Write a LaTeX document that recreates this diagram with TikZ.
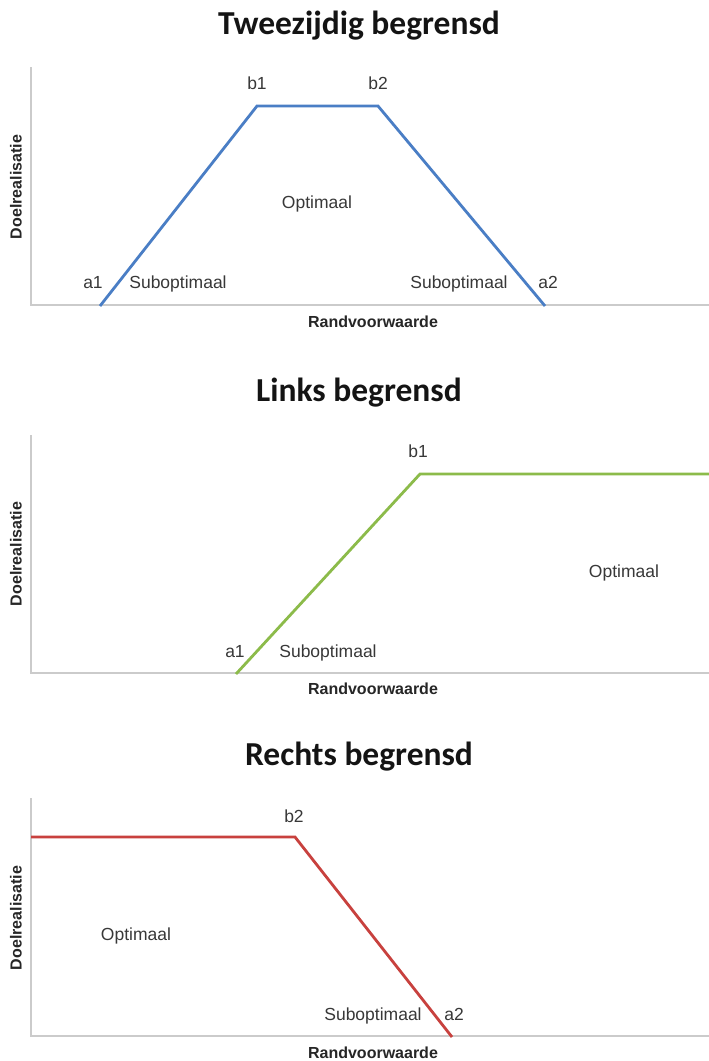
\documentclass[tikz,border=0pt]{standalone}
\usepackage{fontspec}
\setmainfont{Liberation Sans}
\newfontfamily\titlefont{Carlito}
\definecolor{lineblue}{HTML}{4A7EC5}
\definecolor{linegreen}{HTML}{8CBB4A}
\definecolor{linered}{HTML}{C8413E}
\definecolor{axisgray}{HTML}{CBCBCB}
\definecolor{labelgray}{HTML}{383838}
\definecolor{axisname}{HTML}{262626}
\definecolor{titleblack}{HTML}{141414}
\begin{document}
\begin{tikzpicture}[x=1pt, y=-1pt,
  charttitle/.style={font=\titlefont\bfseries\fontsize{33.5}{38}\selectfont,
    text=titleblack, anchor=base, inner sep=0pt},
  axistext/.style={font=\bfseries\fontsize{16}{18}\selectfont,
    text=axisname, inner sep=0pt},
  xname/.style={axistext, anchor=base},
  yname/.style={axistext, rotate=90, anchor=center},
  pointlabel/.style={font=\fontsize{17.5}{20}\selectfont,
    text=labelgray, anchor=base, inner sep=0pt},
  axisline/.style={draw=axisgray, line width=1.6pt},
  curve/.style={line width=2.8pt, line join=miter}]

\useasboundingbox[fill=white] (0,0) rectangle (709,1061);

% ---------- Tweezijdig begrensd ----------
\node[charttitle] (title1) at (359,34) {Tweezijdig begrensd};
\coordinate (top1) at (31,67);
\coordinate (orig1) at (31,305);
\coordinate (end1) at (709,305);
\draw[axisline] (top1) -- (orig1) -- (end1);
\coordinate (A1a) at (100,306);
\coordinate (B1a) at (257,106);
\coordinate (B2a) at (378,106);
\coordinate (A2a) at (545,306);
\draw[curve, draw=lineblue] (A1a) -- (B1a) -- (B2a) -- (A2a);
\node[pointlabel] (lb1a) at (257,89) {b1};
\node[pointlabel] (lb2a) at (378,89) {b2};
\node[pointlabel] (la1a) at (93,288) {a1};
\node[pointlabel] (lsubLa) at (178,288) {Suboptimaal};
\node[pointlabel] (lopta) at (317,208) {Optimaal};
\node[pointlabel] (lsubRa) at (459,288) {Suboptimaal};
\node[pointlabel] (la2a) at (548,288) {a2};
\node[xname] (xn1) at (373,327) {Randvoorwaarde};
\node[yname] (yn1) at (16,187) {Doelrealisatie};

% ---------- Links begrensd ----------
\node[charttitle] (title2) at (359,401) {Links begrensd};
\coordinate (top2) at (31,435);
\coordinate (orig2) at (31,673);
\coordinate (end2) at (709,673);
\draw[axisline] (top2) -- (orig2) -- (end2);
\coordinate (A1b) at (236,674);
\coordinate (B1b) at (420,474);
\coordinate (Rb) at (709,474);
\draw[curve, draw=linegreen] (A1b) -- (B1b) -- (Rb);
\node[pointlabel] (lb1b) at (418,457) {b1};
\node[pointlabel] (la1b) at (235,657) {a1};
\node[pointlabel] (lsubb) at (328,657) {Suboptimaal};
\node[pointlabel] (loptb) at (624,577) {Optimaal};
\node[xname] (xn2) at (373,694) {Randvoorwaarde};
\node[yname] (yn2) at (16,554) {Doelrealisatie};

% ---------- Rechts begrensd ----------
\node[charttitle] (title3) at (359,765) {Rechts begrensd};
\coordinate (top3) at (31,798);
\coordinate (orig3) at (31,1036);
\coordinate (end3) at (709,1036);
\draw[axisline] (top3) -- (orig3) -- (end3);
\coordinate (Lc) at (31,837);
\coordinate (B2c) at (295,837);
\coordinate (A2c) at (452,1037);
\draw[curve, draw=linered] (Lc) -- (B2c) -- (A2c);
\node[pointlabel] (lb2c) at (294,822) {b2};
\node[pointlabel] (loptc) at (136,940) {Optimaal};
\node[pointlabel] (lsubc) at (373,1020) {Suboptimaal};
\node[pointlabel] (la2c) at (454,1020) {a2};
\node[xname] (xn3) at (373,1058) {Randvoorwaarde};
\node[yname] (yn3) at (16,918) {Doelrealisatie};
\end{tikzpicture}
\end{document}
